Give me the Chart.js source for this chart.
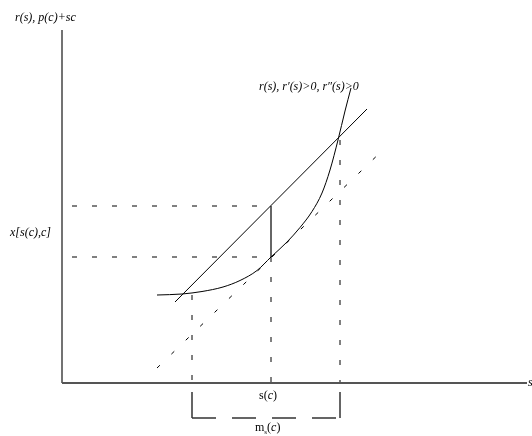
<!DOCTYPE html>
<html>
<head>
<meta charset="utf-8">
<script src="https://cdn.jsdelivr.net/npm/chart.js@4/dist/chart.umd.min.js"></script>
<style>
  html, body { margin: 0; padding: 0; background: #fff; }
  canvas { display: block; }
</style>
</head>
<body>
<canvas id="chart" width="532" height="436"></canvas>
<script>
// values in diagram units: origin at the axes crossing, s to the right, r up
const axisX = [[0, 0], [465, 0]];
const axisY = [[0, 0], [0, 353]];

// r(s), convex
const curveS = [95, 120, 140, 161, 178, 195, 209, 225, 238, 250, 260, 268, 276, 283, 289];
const curveR = [88, 89, 91.5, 96, 102.5, 112.5, 126, 141, 155.5, 171.5, 190, 213, 243, 272, 295];

// p(c) + sc
const priceLine = [[113, 81], [305, 274]];
// tangent at s(c)
const tangentLine = [[95, 15], [325, 237]];

const sC = 209;        // s(c)
const sLow = 130;      // left end of m_s(c)
const sHigh = 278;     // right end of m_s(c)
const rUpper = 177;    // line value at s(c)
const rLower = 126;    // r(s(c))
const rLeft = 88;
const rRight = 243;
const bracketTop = -9;
const bracketBottom = -35;

const toPts = (arr) => arr.map(([x, y]) => ({ x, y }));

const solid = { borderColor: "#000", borderWidth: 1, pointRadius: 0, showLine: true, fill: false };
const dashed = { ...solid, borderDash: [5, 15] };

const datasets = [
  { ...solid, data: toPts(axisX), borderColor: "#555", borderWidth: 2 },
  { ...solid, data: toPts(axisY), borderColor: "#444", borderWidth: 1.5 },
  {
    ...solid,
    data: curveS.map((s, i) => ({ x: s, y: curveR[i] })),
    cubicInterpolationMode: "monotone",
  },
  { ...solid, data: toPts(priceLine) },
  { ...solid, data: toPts(tangentLine), borderDash: [4, 16] },
  { ...dashed, data: toPts([[10, rUpper], [sC, rUpper]]) },
  { ...dashed, data: toPts([[10, rLower], [sC, rLower]]) },
  { ...solid, data: toPts([[sC, rLower], [sC, rUpper]]), borderColor: "#333", borderWidth: 1.5 },
  { ...dashed, data: toPts([[sLow, rLeft], [sLow, 0]]) },
  { ...dashed, data: toPts([[sC, rLower], [sC, 0]]) },
  { ...dashed, data: toPts([[sHigh, rRight], [sHigh, 0]]) },
  // bracket for m_s(c)
  { ...solid, data: toPts([[sLow, bracketTop], [sLow, bracketBottom]]), borderColor: "#333", borderWidth: 1.5 },
  { ...solid, data: toPts([[sHigh, bracketTop], [sHigh, bracketBottom]]), borderColor: "#333", borderWidth: 1.5 },
  { ...solid, data: toPts([[sLow, bracketBottom], [sHigh, bracketBottom]]), borderColor: "#333", borderWidth: 1.5, borderDash: [24, 16] },
];

// text labels, drawn at diagram coordinates
const labels = [
  { x: -47, y: 365, parts: [["italic", "r(s), p(c)+sc"]] },
  { x: 197, y: 296, parts: [["italic", "r(s), r\u2032(s)>0, r\u2033(s)>0"]] },
  { x: -52, y: 150, parts: [["italic", "x[s(c),c]"]] },
  { x: 466, y: 0, parts: [["italic", "s"]] },
  { x: 197, y: -13, parts: [["normal", "s("], ["italic", "c"], ["normal", ")"]] },
  { x: 193, y: -45, parts: [["normal", "m"], ["sub", "s"], ["normal", "("], ["italic", "c"], ["normal", ")"]] },
];

const serif = "'Liberation Serif', 'Times New Roman', Times, serif";

const labelPlugin = {
  id: "labels",
  afterDraw(chart) {
    const { ctx, scales } = chart;
    ctx.save();
    ctx.fillStyle = "#000";
    ctx.textBaseline = "middle";
    labels.forEach((lab) => {
      let px = scales.x.getPixelForValue(lab.x);
      const py = scales.y.getPixelForValue(lab.y);
      lab.parts.forEach(([style, text]) => {
        if (style === "sub") {
          ctx.font = "7px " + serif;
          ctx.fillText(text, px, py + 4);
        } else {
          ctx.font = (style === "italic" ? "italic " : "") + "12px " + serif;
          ctx.fillText(text, px, py);
        }
        px += ctx.measureText(text).width;
      });
    });
    ctx.restore();
  },
};

new Chart(document.getElementById("chart"), {
  type: "scatter",
  data: { datasets },
  options: {
    responsive: false,
    animation: false,
    layout: { padding: 0 },
    plugins: { legend: { display: false }, tooltip: { enabled: false } },
    scales: {
      x: { type: "linear", min: -62, max: 470, display: false },
      y: { type: "linear", min: -53, max: 383, display: false },
    },
  },
  plugins: [labelPlugin],
});
</script>
</body>
</html>
